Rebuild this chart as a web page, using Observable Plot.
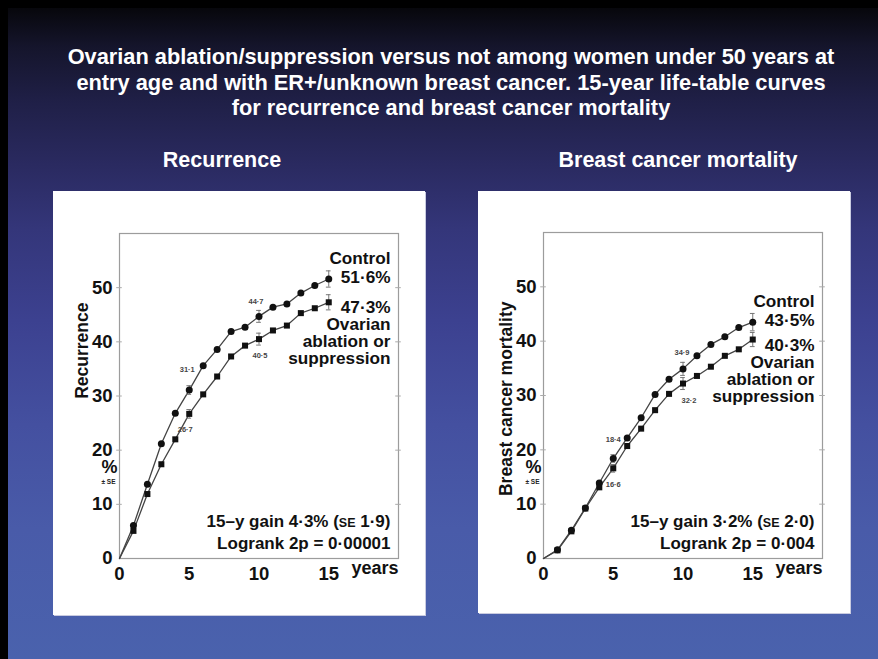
<!DOCTYPE html>
<html>
<head>
<meta charset="utf-8">
<script src="https://cdn.jsdelivr.net/npm/d3@7"></script>
<script src="https://cdn.jsdelivr.net/npm/@observablehq/plot@0.6"></script>
<style>
  html, body { margin: 0; padding: 0; }
  body { width: 878px; height: 659px; overflow: hidden; background: #000; position: relative;
         font-family: "Liberation Sans", Arial, Helvetica, sans-serif; }
  #slide { position: absolute; left: 8px; top: 8px; width: 870px; height: 651px;
    background: linear-gradient(to bottom, #07070c 0%, #15152c 6%, #1f1f46 14%, #2a2a60 24%, #34367a 34%, #3c4190 48%, #4450a0 64%, #495ba9 80%, #4a62ad 100%); }
  .title { position: absolute; left: 12px; width: 878px; top: 44px; text-align: center; color: #fff;
    font-weight: bold; font-size: 21.8px; line-height: 25.5px; }
  .sub { position: absolute; top: 146px; color: #fff; font-weight: bold; font-size: 21.5px; line-height: 28px;
    text-align: center; width: 300px; }
  .panel { position: absolute; background: #fff; box-shadow: 1px 1px 0 #c9cbe0; }
  .panel svg { display: block; }
</style>
</head>
<body>
<div id="slide"></div>
<div class="title">Ovarian ablation/suppression versus not among women under 50 years at<br>entry age and with ER+/unknown breast cancer. 15-year life-table curves<br>for recurrence and breast cancer mortality</div>
<div class="sub" style="left:72px">Recurrence</div>
<div class="sub" style="left:528px">Breast cancer mortality</div>
<div id="left" class="panel" style="left:53px; top:191px; width:372px; height:424px"></div>
<div id="right" class="panel" style="left:478px; top:191px; width:372px; height:422px"></div>
<script>
// ---- data ----
const years = [0, 1, 2, 3, 4, 5, 6, 7, 8, 9, 10, 11, 12, 13, 14, 15];
const recControl  = [0, 6.1, 13.7, 21.2, 26.8, 31.1, 35.6, 38.6, 41.9, 42.7, 44.7, 46.4, 47.0, 49.0, 50.4, 51.6];
const recOvarian  = [0, 5.1, 11.9, 17.4, 22.0, 26.7, 30.3, 33.6, 37.3, 39.3, 40.5, 42.1, 43.0, 45.3, 46.2, 47.3];
const mortControl = [0, 1.6, 5.2, 9.3, 13.9, 18.4, 22.2, 25.9, 30.2, 33.0, 34.9, 37.3, 39.4, 40.8, 42.5, 43.5];
const mortOvarian = [0, 1.5, 5.0, 9.2, 13.1, 16.6, 20.7, 23.9, 27.3, 30.3, 32.2, 33.6, 35.3, 37.3, 38.5, 40.3];
const seYears = [5, 10, 15];
const recControlSE  = [0.8, 1.1, 1.5];
const recOvarianSE  = [0.8, 1.1, 1.4];
const mortControlSE = [0.7, 1.2, 1.6];
const mortOvarianSE = [0.7, 1.1, 1.3];
const yTicks = [0, 10, 20, 30, 40, 50];
const xTicks = [0, 5, 10, 15];
const yMinorTicks = [10, 20, 30, 40, 50];
const recTexts = { yLabel: "Recurrence", control: "Control", treated: "Ovarian\nablation or\nsuppression",
  gain: "15–y gain 4·3% (SE 1·9)", logrank: "Logrank 2p = 0·00001" };
const mortTexts = { yLabel: "Breast cancer mortality", control: "Control", treated: "Ovarian\nablation or\nsuppression",
  gain: "15–y gain 3·2% (SE 2·0)", logrank: "Logrank 2p = 0·004" };

const fmt = v => v.toFixed(1).replace(".", "·");
const FONT = "Liberation Sans, Arial, Helvetica, sans-serif";

function series(vals) { return years.map((x, i) => ({ x, y: vals[i] })); }
function errs(vals, se) {
  return seYears.map((x, i) => ({ x, y: vals[years.indexOf(x)], lo: vals[years.indexOf(x)] - se[i], hi: vals[years.indexOf(x)] + se[i] }));
}
function caps(e) {
  return e.flatMap(d => [{ x1: d.x - 0.17, x2: d.x + 0.17, y: d.lo }, { x1: d.x - 0.17, x2: d.x + 0.17, y: d.hi }]);
}
function pointAt(vals, yr) { return [{ x: yr, y: vals[years.indexOf(yr)] }]; }

function makePanel(cfg) {
  const c = series(cfg.control), o = series(cfg.ovarian);
  const ec = errs(cfg.control, cfg.controlSE), eo = errs(cfg.ovarian, cfg.ovarianSE);
  const last = years[years.length - 1];
  const ctrlEnd = pointAt(cfg.control, last), ovEnd = pointAt(cfg.ovarian, last);
  const labelMarks = cfg.valueLabels.map(l =>
    Plot.text(pointAt(l.series, l.year), { x: "x", y: "y", text: d => fmt(d.y), dx: l.dx, dy: l.dy,
      fontSize: 7.5, fontWeight: "bold", fill: "#444" }));
  const svg = Plot.plot({
    width: 372, height: cfg.height,
    marginLeft: cfg.ml, marginRight: cfg.mr, marginTop: cfg.mt, marginBottom: cfg.mb,
    x: { domain: [0, 20] }, y: { domain: [0, 60] },
    style: { background: "white", fontFamily: FONT, overflow: "visible", color: "#111" },
    marks: [
      Plot.frame({ stroke: "#9c9c9c", strokeWidth: 1.2 }),
      Plot.ruleY(yMinorTicks, { y: d => d, x1: -0.2, x2: 0.2, stroke: "#aaa" }),
      Plot.ruleY(yMinorTicks, { y: d => d, x1: 19.8, x2: 20.2, stroke: "#aaa" }),
      Plot.axisY({ ticks: yTicks, tickSize: 0, tickPadding: 7, fontSize: 18.5, fontWeight: "bold", label: null, fill: "#111" }),
      Plot.axisX({ ticks: xTicks, tickSize: 0, tickPadding: 8, fontSize: 18.5, fontWeight: "bold", label: null, fill: "#111" }),
      Plot.text([cfg.texts.yLabel], { frameAnchor: "top-left", rotate: -90, textAnchor: "end", dx: -44, dy: 69,
        fontSize: 17.5, fontWeight: "bold", fill: "#111" }),
      Plot.text(["%"], { frameAnchor: "bottom-left", dx: -18, dy: -86, fontSize: 18, fontWeight: "bold", fill: "#111" }),
      Plot.text(["± SE"], { frameAnchor: "bottom-left", dx: -18, dy: -75, fontSize: 6.5, fontWeight: "bold", fill: "#222" }),
      Plot.text(["years"], { frameAnchor: "bottom-right", textAnchor: "end", dy: 15, fontSize: 18, fontWeight: "bold", fill: "#111" }),
      Plot.line(c, { x: "x", y: "y", stroke: "#444", strokeWidth: 1.3 }),
      Plot.line(o, { x: "x", y: "y", stroke: "#444", strokeWidth: 1.3 }),
      Plot.ruleX(ec, { x: "x", y1: "lo", y2: "hi", stroke: "#777", strokeWidth: 1 }),
      Plot.ruleX(eo, { x: "x", y1: "lo", y2: "hi", stroke: "#777", strokeWidth: 1 }),
      Plot.ruleY(caps(ec), { y: "y", x1: "x1", x2: "x2", stroke: "#777", strokeWidth: 1 }),
      Plot.ruleY(caps(eo), { y: "y", x1: "x1", x2: "x2", stroke: "#777", strokeWidth: 1 }),
      Plot.dot(c.slice(1), { x: "x", y: "y", r: 3.5, fill: "#111", stroke: "none", symbol: "circle" }),
      Plot.dot(o.slice(1), { x: "x", y: "y", r: 3.4, fill: "#111", stroke: "none", symbol: "square" }),
      ...labelMarks,
      Plot.text(ctrlEnd, { y: "y", text: d => cfg.texts.control + "\n" + fmt(d.y) + "%", frameAnchor: "right",
        textAnchor: "end", lineAnchor: "bottom", lineHeight: 1.08, dx: -8, dy: 3.8, fontSize: 17.2, fontWeight: "bold", fill: "#111" }),
      Plot.text(ovEnd, { y: "y", text: d => fmt(d.y) + "%\n" + cfg.texts.treated, frameAnchor: "right",
        textAnchor: "end", lineAnchor: "top", lineHeight: 0.99, dx: -8, dy: -1, fontSize: 17.2, fontWeight: "bold", fill: "#111" }),
      Plot.text([cfg.texts.gain + "\n" + cfg.texts.logrank], { frameAnchor: "bottom-right", textAnchor: "end",
        lineAnchor: "bottom", lineHeight: 1.24, dx: -8, dy: -10, fontSize: 17, fontWeight: "bold", fill: "#111" })
    ]
  });
  // small-caps "SE" inside the gain line
  svg.querySelectorAll("text, tspan").forEach(el => {
    if (el.childElementCount === 0 && el.textContent.includes("(SE ")) {
      const parts = el.textContent.split("SE");
      el.textContent = "";
      el.append(parts[0]);
      const t = document.createElementNS("http://www.w3.org/2000/svg", "tspan");
      t.setAttribute("font-size", "12.5");
      t.textContent = "SE";
      el.append(t);
      el.append(parts[1]);
    }
  });
  return svg;
}

document.getElementById("left").append(makePanel({
  height: 424, ml: 66, mr: 27, mt: 42, mb: 57,
  control: recControl, ovarian: recOvarian, controlSE: recControlSE, ovarianSE: recOvarianSE,
  texts: recTexts,
  valueLabels: [
    { series: recControl, year: 5, dx: -2, dy: -20 },
    { series: recOvarian, year: 5, dx: -4, dy: 16 },
    { series: recControl, year: 10, dx: -3, dy: -15 },
    { series: recOvarian, year: 10, dx: 1, dy: 16 }
  ]
}));
document.getElementById("right").append(makePanel({
  height: 422, ml: 65, mr: 28, mt: 41, mb: 55,
  control: mortControl, ovarian: mortOvarian, controlSE: mortControlSE, ovarianSE: mortOvarianSE,
  texts: mortTexts,
  valueLabels: [
    { series: mortControl, year: 5, dx: 0, dy: -19 },
    { series: mortOvarian, year: 5, dx: 0, dy: 16 },
    { series: mortControl, year: 10, dx: -1, dy: -16 },
    { series: mortOvarian, year: 10, dx: 6, dy: 17 }
  ]
}));
</script>
</body>
</html>
